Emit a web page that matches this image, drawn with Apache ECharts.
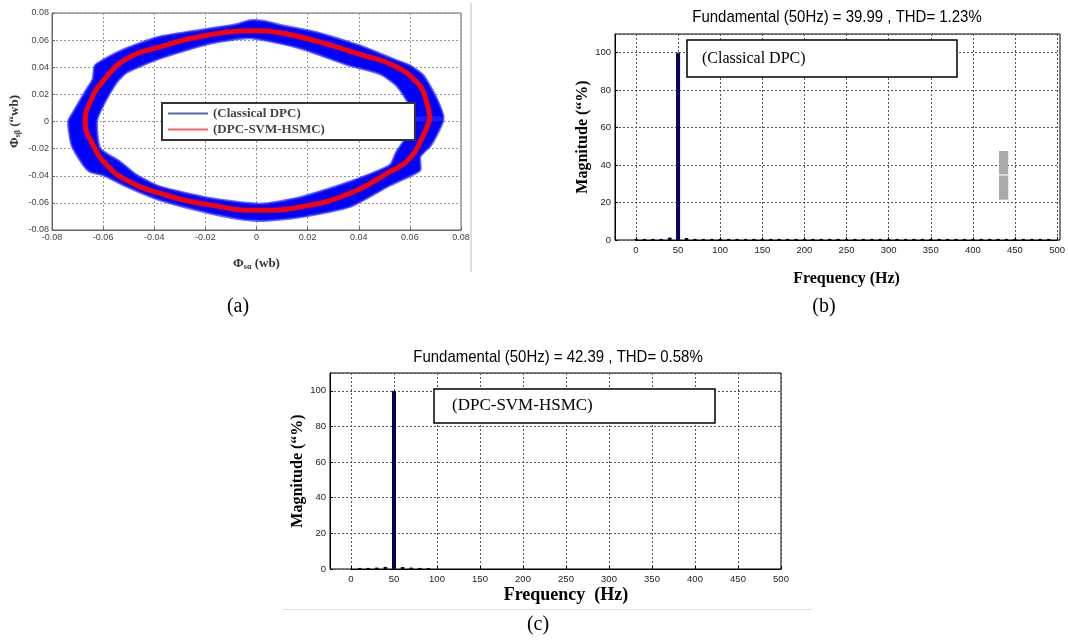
<!DOCTYPE html>
<html><head><meta charset="utf-8">
<script src="https://cdn.jsdelivr.net/npm/echarts@6/dist/echarts.min.js"></script>
<style>html,body{margin:0;padding:0;background:#fff}#c{width:1068px;height:642px}</style>
</head><body><div id="c"></div>
<script>
// ---------- Panel (a): stator flux trajectories (wb) ----------
const seriesNameA1 = '(Classical DPC)';
const seriesNameA2 = '(DPC-SVM-HSMC)';
// red trajectory (DPC-SVM-HSMC), [Phi_s_alpha, Phi_s_beta]
const dpcSvmHsmcFlux = [[0.0679,0.0020],[0.0660,0.0180],[0.0627,0.0289],[0.0540,0.0410],[0.0405,0.0495],[0.0235,0.0592],[0.0100,0.0652],[0.0014,0.0669],[-0.0182,0.0640],[-0.0378,0.0550],[-0.0508,0.0461],[-0.0600,0.0300],[-0.0651,0.0142],[-0.0670,0.0000],[-0.0639,-0.0174],[-0.0586,-0.0321],[-0.0508,-0.0432],[-0.0378,-0.0529],[-0.0182,-0.0615],[0.0014,-0.0655],[0.0170,-0.0630],[0.0366,-0.0529],[0.0522,-0.0370],[0.0600,-0.0272],[0.0653,-0.0100],[0.0679,0.0020]];
// blue band (Classical DPC): outer and inner envelope
const classicalOuterEdge = [[0.0730,0.0020],[0.0705,0.0167],[0.0653,0.0338],[0.0600,0.0412],[0.0535,0.0460],[0.0405,0.0559],[0.0235,0.0657],[0.0105,0.0706],[0.0030,0.0740],[-0.0025,0.0745],[-0.0080,0.0715],[-0.0180,0.0685],[-0.0378,0.0625],[-0.0508,0.0540],[-0.0580,0.0475],[-0.0632,0.0412],[-0.0640,0.0314],[-0.0671,0.0216],[-0.0717,0.0068],[-0.0736,0.0000],[-0.0723,-0.0174],[-0.0678,-0.0320],[-0.0651,-0.0370],[-0.0600,-0.0395],[-0.0508,-0.0480],[-0.0378,-0.0579],[-0.0182,-0.0676],[-0.0040,-0.0725],[0.0040,-0.0730],[0.0170,-0.0705],[0.0366,-0.0628],[0.0522,-0.0470],[0.0580,-0.0420],[0.0640,-0.0360],[0.0640,-0.0260],[0.0680,-0.0180],[0.0705,-0.0100]];
const classicalInnerEdge = [[0.0613,0.0020],[0.0600,0.0118],[0.0548,0.0265],[0.0483,0.0351],[0.0366,0.0412],[0.0170,0.0540],[-0.0025,0.0615],[-0.0182,0.0575],[-0.0378,0.0465],[-0.0508,0.0362],[-0.0547,0.0289],[-0.0600,0.0118],[-0.0625,0.0000],[-0.0612,-0.0199],[-0.0534,-0.0296],[-0.0469,-0.0395],[-0.0378,-0.0480],[-0.0182,-0.0566],[0.0014,-0.0608],[0.0170,-0.0560],[0.0366,-0.0444],[0.0522,-0.0321],[0.0548,-0.0223],[0.0600,-0.0076]];

// ---------- Panel (b): FFT, Classical DPC ----------
const titleB = 'Fundamental (50Hz) = 39.99 , THD= 1.23%';
const legendB = '(Classical DPC)';
const freqB = [0,10,20,30,40,50,60,70,80,90,100,110,120,130,140,150,160,170,180,190,200,210,220,230,240,250,260,270,280,290,300,310,320,330,340,350,360,370,380,390,400,410,420,430,440,450,460,470,480,490];
const magB  = [0.6,0.6,0.6,0.6,1.3,100,1.0,0.6,0.6,0.6,0.6,0.6,0.6,0.6,0.6,0.6,0.6,0.6,0.6,0.6,0.6,0.6,0.6,0.6,0.6,0.6,0.6,0.6,0.6,0.6,0.6,0.6,0.6,0.6,0.6,0.6,0.6,0.6,0.6,0.6,0.6,0.6,0.6,0.6,0.6,0.6,0.6,0.6,0.6,0.6];
// grey artefact box visible in panel (b): [x0, y0, x1, y1]
const artifactBoxes = [[431,21.5,442,34.4],[431,35.0,442,47.5]];

// ---------- Panel (c): FFT, DPC-SVM-HSMC ----------
const titleC = 'Fundamental (50Hz) = 42.39 , THD= 0.58%';
const legendC = '(DPC-SVM-HSMC)';
const freqC = [10,20,30,40,50,60,70,80,90];
const magC  = [0.6,0.6,0.8,1.2,100,1.1,0.8,0.6,0.5];

const freqTicksMax = 500;
const magName = 'Magnitude (\u201C%)';

const chart = echarts.init(document.getElementById('c'), null, {renderer:'canvas'});

const serif = "'Liberation Serif','DejaVu Serif',serif";
const sans = "'Liberation Sans','Arial',sans-serif";

function fluxLabel(v){ return Math.abs(v) < 1e-9 ? '0' : v.toFixed(2); }

const dashGrid = {show:true, lineStyle:{type:[2,2], color:'#555', width:1}};
const dotGridA = {show:true, lineStyle:{type:[2,2], color:'#9a9a9a', width:1}};

function fftAxes(gi, showName, nameFont, xNameGap){
  return {
    xFrame: {gridIndex:gi, type:'value', min:-25, max:freqTicksMax, show:false},
    yFrame: {gridIndex:gi, type:'value', min:0, max:110, interval:20,
      axisLine:{show:true, onZero:false, lineStyle:{color:'#000'}},
      axisTick:{show:true, inside:true, length:3, lineStyle:{color:'#000'}},
      axisLabel:{showMaxLabel:false, fontSize:9.5, fontFamily:sans, color:'#222', margin:4},
      splitLine:dashGrid,
      name:magName, nameLocation:'middle', nameGap:16,
      nameTextStyle:{fontFamily:serif, fontWeight:'bold', fontSize:16, color:'#000'}},
    xData: {gridIndex:gi+1, type:'value', min:0, max:freqTicksMax, interval:50,
      axisLine:{show:true, onZero:false, lineStyle:{color:'#000'}},
      axisTick:{show:true, inside:true, length:3, lineStyle:{color:'#000'}},
      axisLabel:{fontSize:9.5, fontFamily:sans, color:'#222', margin:5},
      splitLine:dashGrid,
      name:showName, nameLocation:'middle', nameGap:xNameGap,
      nameTextStyle:nameFont},
    yData: {gridIndex:gi+1, type:'value', min:0, max:110, show:false, splitLine:{show:false}, axisLine:{show:false, onZero:false}}
  };
}
const axB = fftAxes(1, 'Frequency (Hz)', {fontFamily:serif, fontWeight:'bold', fontSize:16, color:'#000'}, 31);
const axC = fftAxes(3, 'Frequency  (Hz)', {fontFamily:serif, fontWeight:'bold', fontSize:18, color:'#000'}, 17);

function pairs(xs, ys){ return xs.map((x,i)=>[x, ys[i]]); }

const option = {
  backgroundColor:'#fff',
  animation:false,
  grid:[
    {left:52, top:13, width:409, height:217, show:true, borderColor:'#666', borderWidth:1, backgroundColor:'transparent'},
    {left:615, top:34, right:8, bottom:402, show:true, borderColor:'#000', borderWidth:1, backgroundColor:'transparent'},
    {left:636, top:34, right:8, bottom:402},
    {left:330, top:373, right:287, bottom:73, show:true, borderColor:'#000', borderWidth:1, backgroundColor:'transparent'},
    {left:351, top:373, right:287, bottom:73}
  ],
  xAxis:[
    {gridIndex:0, type:'value', min:-0.08, max:0.08, interval:0.02,
      axisLine:{show:true, onZero:false, lineStyle:{color:'#666'}},
      axisTick:{show:true, inside:true, length:3, lineStyle:{color:'#666'}},
      axisLabel:{fontSize:9, fontFamily:sans, color:'#444', margin:3, formatter:fluxLabel},
      splitLine:dotGridA,
      name:'{b|\u03A6}{s|s\u03B1}{b| (wb)}', nameLocation:'middle', nameGap:27,
      nameTextStyle:{rich:{b:{fontFamily:serif, fontWeight:'bold', fontSize:13, color:'#333'}, s:{fontFamily:serif, fontWeight:'bold', fontSize:8, color:'#333', verticalAlign:'bottom', padding:[6,0,0,0]}}}},
    axB.xFrame, axB.xData, axC.xFrame, axC.xData
  ],
  yAxis:[
    {gridIndex:0, type:'value', min:-0.08, max:0.08, interval:0.02,
      axisLine:{show:true, onZero:false, lineStyle:{color:'#666'}},
      axisTick:{show:true, inside:true, length:3, lineStyle:{color:'#666'}},
      axisLabel:{fontSize:9, fontFamily:sans, color:'#444', margin:3, formatter:fluxLabel},
      splitLine:dotGridA,
      name:'{b|\u03A6}{s|s\u03B2}{b| (\u201Cwb)}', nameLocation:'middle', nameGap:30,
      nameTextStyle:{rich:{b:{fontFamily:serif, fontWeight:'bold', fontSize:13, color:'#333'}, s:{fontFamily:serif, fontWeight:'bold', fontSize:8, color:'#333', verticalAlign:'bottom', padding:[6,0,0,0]}}}},
    axB.yFrame, axB.yData, axC.yFrame, axC.yData
  ],
  legend:{
    left:162, top:103, orient:'vertical', icon:'rect', itemWidth:40, itemHeight:2, itemGap:3,
    padding:[4,90,4,6], borderColor:'#333', borderWidth:2, backgroundColor:'#fff',
    textStyle:{fontFamily:serif, fontWeight:'bold', fontSize:13, color:'#444'},
    selectedMode:false,
    data:[{name:seriesNameA1, itemStyle:{color:'#4f68b0'}}, {name:seriesNameA2, itemStyle:{color:'#ff5c5c'}}]
  },
  series:[
    {
      name:seriesNameA1, type:'custom', xAxisIndex:0, yAxisIndex:0, z:2,
      itemStyle:{color:'#0000ff'},
      data:[[0,0]],
      renderItem:function(params, api){
        const pts = [];
        classicalOuterEdge.forEach(p=>pts.push(api.coord(p)));
        pts.push(api.coord(classicalOuterEdge[0]));
        pts.push(api.coord(classicalInnerEdge[0]));
        for (let i = classicalInnerEdge.length - 1; i >= 0; i--) pts.push(api.coord(classicalInnerEdge[i]));
        return {type:'polygon', shape:{points:pts, smooth:0.2}, style:{fill:'#0000ff', stroke:'rgba(40,40,255,0.7)', lineWidth:2.5}};
      }
    },
    {
      name:seriesNameA2, type:'line', xAxisIndex:0, yAxisIndex:0, z:3,
      data:dpcSvmHsmcFlux, symbol:'none', smooth:0.5,
      lineStyle:{color:'#ff0000', width:5}, itemStyle:{color:'#ff0000'}
    },
    {
      type:'bar', xAxisIndex:2, yAxisIndex:2, barWidth:4,
      data:pairs(freqB, magB),
      itemStyle:{color:'#000080', borderColor:'#000020', borderWidth:1},
      markArea:{silent:true, itemStyle:{color:'#a9a9a9', opacity:1},
        data:artifactBoxes.map(b=>[{xAxis:b[0], yAxis:b[1]},{xAxis:b[2], yAxis:b[3]}])}
    },
    {
      type:'bar', xAxisIndex:4, yAxisIndex:4, barWidth:4,
      data:pairs(freqC, magC),
      itemStyle:{color:'#000080', borderColor:'#000020', borderWidth:1}
    }
  ],
  graphic:[
    // separators
    {type:'line', z:1, shape:{x1:471, y1:3, x2:471, y2:272}, style:{stroke:'#bdbdbd', lineWidth:1}},
    {type:'line', z:1, shape:{x1:283, y1:609.5, x2:812, y2:609.5}, style:{stroke:'#e0e0e0', lineWidth:1}},
    // titles (condensed sans)
    {type:'text', x:837, y:17, z:10, scaleX:0.88, style:{text:titleB, font:'17px '+sans, fill:'#000', align:'center', verticalAlign:'middle'}},
    {type:'text', x:558, y:357, z:10, scaleX:0.88, style:{text:titleC, font:'17px '+sans, fill:'#000', align:'center', verticalAlign:'middle'}},
    // text boxes inside FFT plots
    {type:'rect', z:10, shape:{x:687, y:40, width:270, height:37}, style:{fill:'#fff', stroke:'#000', lineWidth:1.5}},
    {type:'text', x:702, y:58.5, z:11, style:{text:legendB, font:'16px '+serif, fill:'#000', align:'left', verticalAlign:'middle'}},
    {type:'rect', z:10, shape:{x:434, y:389, width:281, height:34}, style:{fill:'#fff', stroke:'#000', lineWidth:1.5}},
    {type:'text', x:452, y:406, z:11, style:{text:legendC, font:'17px '+serif, fill:'#000', align:'left', verticalAlign:'middle'}},
    // captions
    {type:'text', x:238, y:307, z:10, style:{text:'(a)', font:'20px '+serif, fill:'#000', align:'center', verticalAlign:'middle'}},
    {type:'text', x:824, y:307, z:10, style:{text:'(b)', font:'20px '+serif, fill:'#000', align:'center', verticalAlign:'middle'}},
    {type:'text', x:538, y:625, z:10, style:{text:'(c)', font:'20px '+serif, fill:'#000', align:'center', verticalAlign:'middle'}}
  ]
};
chart.setOption(option);
</script>
</body></html>
